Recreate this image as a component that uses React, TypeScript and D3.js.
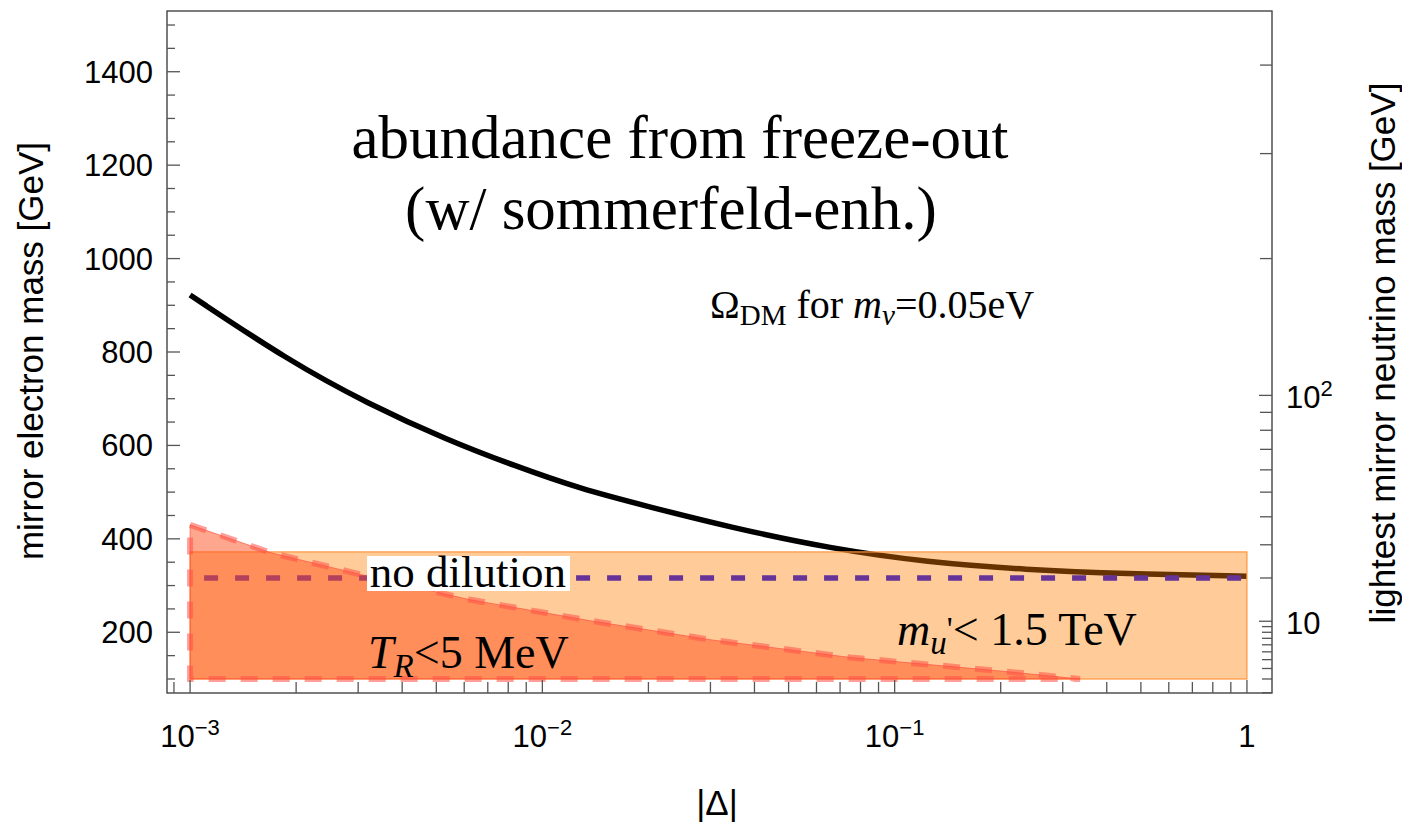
import * as React from "react";
import * as d3 from "d3";

// black curve: relic abundance for m_nu = 0.05 eV
const curveDelta = [0.001, 0.0019, 0.0032, 0.0054, 0.0083, 0.0128, 0.02, 0.034, 0.066, 0.124, 0.236, 0.45, 1];
const curveMass = [922, 782, 689, 611, 557, 507, 469, 425, 379, 350, 334, 325, 320];

// T_R < 5 MeV region (upper edge)
const trDelta = [0.001, 0.0017, 0.003, 0.0062, 0.0136, 0.03, 0.075, 0.2, 0.336];
const trMass = [430, 370, 325, 270, 225, 184, 146, 117, 100];
const trFloor = 100;

// m_u' < 1.5 TeV box
const boxDelta = [0.001, 1];
const boxMass = [100, 372];

// no dilution line
const noDilutionDelta = [0.001, 1];
const noDilutionMass = 316;

// axis ticks
const leftMajor = [200, 400, 600, 800, 1000, 1200, 1400];
const rightLabelled = [10, 100];
const rightMinor = [1, 2, 3, 4, 5, 6, 7, 8, 9, 20, 30, 40, 50, 60, 70, 80, 90, 200, 300, 400];
const xLabelled = [
  { v: 0.001, exp: "\u22123" },
  { v: 0.01, exp: "\u22122" },
  { v: 0.1, exp: "\u22121" },
  { v: 1, exp: "" },
];

// lightest mirror neutrino mass = k * (mirror electron mass)^2
const nuPerE2 = 2e-4;

const W = 1402;
const H = 822;
const serif = "'Liberation Serif', 'Times New Roman', serif";
const sans = "'Liberation Sans', Arial, sans-serif";

export default function App() {
  const x = d3.scaleLog().domain([0.00086, 1.178]).range([167, 1272]);
  const y = d3.scaleLinear().domain([70, 1530]).range([693, 11]);
  const yNu = (m: number) => y(Math.sqrt(m / nuPerE2));

  const curvePts = curveDelta.map((d, i) => [d, curveMass[i]] as [number, number]);
  const curveLine = d3
    .line<[number, number]>()
    .x((d) => x(d[0]))
    .y((d) => y(d[1]))
    .curve(d3.curveBasis)(curvePts)!;

  const trPts: [number, number][] = trDelta.map((d, i) => [d, trMass[i]]);
  trPts.push([trDelta[trDelta.length - 1], trFloor]);
  trPts.push([trDelta[0], trFloor]);
  const trPath = d3
    .line<[number, number]>()
    .x((d) => x(d[0]))
    .y((d) => y(d[1]))(trPts)! + "Z";

  const xMinor: number[] = [];
  for (let e = -4; e <= 0; e++) {
    for (let k = 2; k <= 9; k++) {
      const v = k * Math.pow(10, e);
      if (v > 0.00086 && v < 1.178) xMinor.push(v);
    }
  }
  const leftMinor = d3.range(100, 1550, 50).filter((v) => v % 200 !== 0);

  const [x0, x1] = x.range();
  const [yb, yt] = y.range();
  const tickCol = "#555";

  return (
    <svg width={W} height={H} style={{ position: "absolute", left: 0, top: 0, background: "#fff" }}>
      {/* black curve */}
      <path d={curveLine} fill="none" stroke="#000" strokeWidth={5.5} />

      {/* m_u' box */}
      <rect
        x={x(boxDelta[0])}
        y={y(boxMass[1])}
        width={x(boxDelta[1]) - x(boxDelta[0])}
        height={y(boxMass[0]) - y(boxMass[1])}
        fill="rgb(255,127,0)"
        fillOpacity={0.4}
        stroke="rgb(255,150,60)"
        strokeWidth={1.2}
      />

      {/* no dilution */}
      <line
        x1={x(noDilutionDelta[0])}
        x2={x(noDilutionDelta[1])}
        y1={y(noDilutionMass)}
        y2={y(noDilutionMass)}
        stroke="#663399"
        strokeWidth={5.5}
        strokeDasharray="14,17"
        strokeDashoffset={17}
      />

      {/* T_R region */}
      <path d={trPath} fill="rgb(255,80,30)" fillOpacity={0.5} stroke="rgb(255,70,60)" strokeOpacity={0.6} strokeWidth={1} />
      <path
        d={trPath}
        fill="none"
        stroke="rgb(255,80,70)"
        strokeOpacity={0.55}
        strokeWidth={6}
        strokeDasharray="17,15"
      />

      {/* no dilution label */}
      <rect x={367} y={556} width={203} height={35} fill="#fff" />
      <text x={468} y={587} fontFamily={serif} fontSize={45} textAnchor="middle">
        no dilution
      </text>

      {/* frame */}
      <rect x={x0} y={yt} width={x1 - x0} height={yb - yt} fill="none" stroke="#444" strokeWidth={1.4} />

      {/* left ticks */}
      {leftMajor.map((v) => (
        <g key={"lm" + v}>
          <line x1={x0} x2={x0 + 13} y1={y(v)} y2={y(v)} stroke={tickCol} strokeWidth={1.3} />
          <text x={153} y={y(v) + 11} fontFamily={sans} fontSize={31} textAnchor="end">
            {v}
          </text>
        </g>
      ))}
      {leftMinor.map((v) => (
        <line key={"ln" + v} x1={x0} x2={x0 + 8} y1={y(v)} y2={y(v)} stroke={tickCol} strokeWidth={1.3} />
      ))}

      {/* right ticks */}
      {rightLabelled.map((m) => (
        <g key={"rm" + m}>
          <line x1={x1} x2={x1 - 13} y1={yNu(m)} y2={yNu(m)} stroke={tickCol} strokeWidth={1.3} />
          <text x={1286} y={yNu(m) + 13} fontFamily={sans} fontSize={31}>
            10
            {m === 100 && (
              <tspan fontSize={22} dy={-12}>
                2
              </tspan>
            )}
          </text>
        </g>
      ))}
      {rightMinor.map((m) => (
        <line
          key={"rn" + m}
          x1={x1}
          x2={x1 - (m < 10 ? 10 : 12)}
          y1={yNu(m)}
          y2={yNu(m)}
          stroke={tickCol}
          strokeWidth={1.3}
        />
      ))}

      {/* bottom ticks */}
      {xLabelled.map((t) => (
        <g key={"xm" + t.v}>
          <line x1={x(t.v)} x2={x(t.v)} y1={yb} y2={yb - 13} stroke={tickCol} strokeWidth={1.3} />
          <text x={x(t.v)} y={747} fontFamily={sans} fontSize={31} textAnchor="middle">
            {t.exp ? "10" : "1"}
            {t.exp && (
              <tspan fontSize={22} dy={-12}>
                {t.exp}
              </tspan>
            )}
          </text>
        </g>
      ))}
      {xMinor.map((v) => (
        <line key={"xn" + v} x1={x(v)} x2={x(v)} y1={yb} y2={yb - 11} stroke={tickCol} strokeWidth={1.3} />
      ))}

      {/* axis titles */}
      <text transform="translate(43,351) rotate(-90)" fontFamily={sans} fontSize={35} textAnchor="middle">
        mirror electron mass [GeV]
      </text>
      <text transform="translate(1395,353) rotate(-90)" fontFamily={sans} fontSize={35} textAnchor="middle">
        lightest mirror neutrino mass [GeV]
      </text>
      <text x={717} y={815} fontFamily={sans} fontSize={35} textAnchor="middle">
        |Δ|
      </text>

      {/* annotations */}
      <text x={680} y={158} fontFamily={serif} fontSize={61} textAnchor="middle">
        abundance from freeze-out
      </text>
      <text x={671} y={229} fontFamily={serif} fontSize={61} textAnchor="middle">
        (w/ sommerfeld-enh.)
      </text>

      <text x={710} y={318} fontFamily={serif} fontSize={40}>
        Ω
        <tspan fontSize={29} dy={7}>
          DM
        </tspan>
        <tspan dy={-7}> for </tspan>
        <tspan fontStyle="italic">m</tspan>
        <tspan fontStyle="italic" fontSize={29} dy={7}>
          ν
        </tspan>
        <tspan dy={-7}>=0.05eV</tspan>
      </text>

      <text x={368} y={668} fontFamily={serif} fontSize={46}>
        <tspan fontStyle="italic">T</tspan>
        <tspan fontStyle="italic" fontSize={33} dy={9}>
          R
        </tspan>
        <tspan dy={-9}>{"<5 MeV"}</tspan>
      </text>

      <text x={897} y={645} fontFamily={serif} fontSize={46}>
        <tspan fontStyle="italic">m</tspan>
        <tspan fontStyle="italic" fontSize={33} dy={9}>
          u
        </tspan>
        <tspan fontSize={33} dy={-14}>
          '
        </tspan>
        <tspan dy={5}>{"< 1.5 TeV"}</tspan>
      </text>
    </svg>
  );
}
